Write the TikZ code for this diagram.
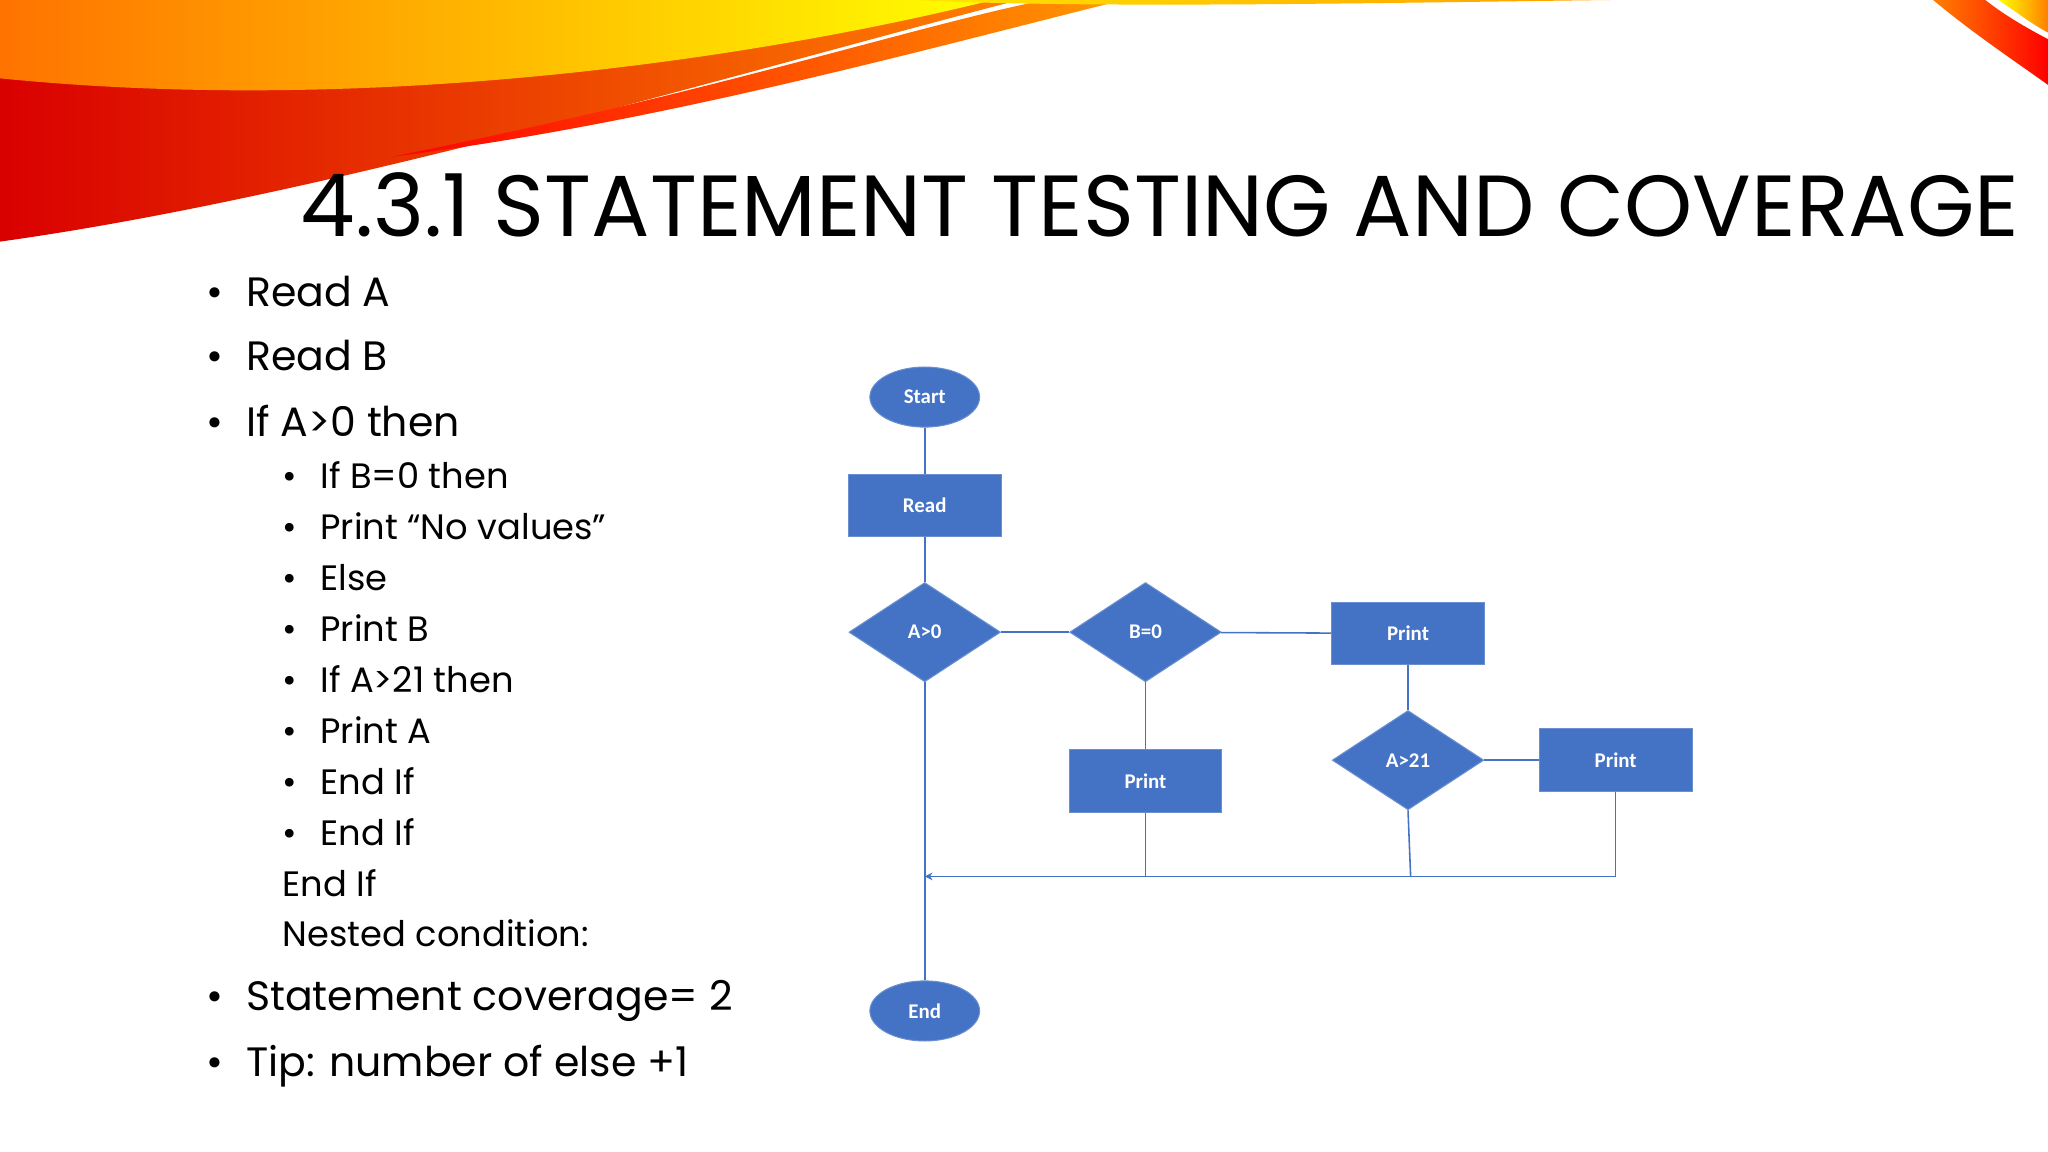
\documentclass[tikz,border=0pt]{standalone}
\usepackage{fontspec}
\setmainfont{Poppins}
\newfontfamily\calfont{Carlito}
\usetikzlibrary{shapes.geometric,arrows.meta}
\definecolor{fc}{HTML}{4472C4}
\definecolor{bc}{HTML}{6A8FD0}
\begin{document}
\begin{tikzpicture}[x=0.5pt,y=-0.5pt,
  box/.style={draw=bc,fill=fc,minimum width=58.5pt,minimum height=24pt,text=white,font=\calfont\fontsize{8}{9}\selectfont\bfseries,inner sep=0pt},
  dia/.style={diamond,draw=bc,fill=fc,aspect=1.55,minimum width=58pt,minimum height=38pt,text=white,font=\calfont\fontsize{8}{9}\selectfont\bfseries,inner sep=0pt},
  ell/.style={ellipse,draw=bc,fill=fc,minimum width=42pt,minimum height=23pt,text=white,font=\calfont\fontsize{8}{9}\selectfont\bfseries,inner sep=0pt},
  ln/.style={draw=fc,line width=0.6pt},
  bul/.style={anchor=base west,font=\fontsize{15.7}{18}\selectfont,inner sep=0pt},
  sbul/.style={anchor=base west,font=\fontsize{13.5}{16}\selectfont,inner sep=0pt}]
\useasboundingbox (0,0) rectangle (1568,882);
\fill[white] (0,0) rectangle (1568,882);
% decorative swooshes
\shade[left color=red!85!black,right color=orange] (0,0) -- (0,185) .. controls (250,150) and (550,60) .. (780,0) -- cycle;
\shade[left color=orange!90!red,right color=yellow] (0,0) -- (0,60) .. controls (300,90) and (600,40) .. (760,0) -- cycle;
\shade[left color=red,right color=orange!80!yellow] (300,120) .. controls (550,70) and (700,20) .. (800,0) -- (860,0) .. controls (700,40) and (500,95) .. (300,120) -- cycle;
\shade[left color=yellow!80!orange,right color=orange] (700,0) .. controls (900,10) and (1300,-5) .. (1450,0) -- cycle;
\shade[left color=orange,right color=red] (1480,0) .. controls (1510,25) and (1540,45) .. (1568,65) -- (1568,30) .. controls (1545,18) and (1530,8) .. (1520,0) -- cycle;
\shade[left color=yellow,right color=orange] (1530,0) .. controls (1545,10) and (1555,18) .. (1568,25) -- (1568,0) -- cycle;
% title
\node[anchor=base west,inner sep=0pt,font=\fontsize{33.2}{36}\selectfont] (title) at (230,181) {4.3.1 STATEMENT TESTING AND COVERAGE};
% bullets
\node[bul] (b1) at (188,235) {Read A};
\node[bul] (b2) at (188,284) {Read B};
\node[bul] (b3) at (188,334) {If A>0 then};
\foreach \t/\y [count=\i] in {If B=0 then/374,Print “No values”/413,Else/452,Print B/491,If A>21 then/530,Print A/569,End If/608,End If/647}{
  \node[sbul] (s\i) at (245,\y) {\t};
  \node[sbul] (d\i) at (216,\y) {•};}
\foreach \y [count=\i] in {235,284,334,774,824}{\node[bul] (e\i) at (158,\y) {•};}
\node[sbul] (ei) at (216,686) {End If};
\node[sbul] (nc) at (216,725) {Nested condition:};
\node[bul] (b4) at (188,774) {Statement coverage= 2};
\node[bul] (b5) at (188,824) {Tip: number of else +1};
% flowchart
\node[ell] (start) at (708,304) {Start};
\node[box] (read) at (708,387) {Read};
\node[dia] (a0) at (708,484) {A>0};
\node[dia] (b0) at (877,484) {B=0};
\node[box] (p1) at (1078,485) {Print};
\node[box] (p2) at (877,598) {Print};
\node[dia] (a21) at (1078,582) {A>21};
\node[box] (p3) at (1237,582) {Print};
\node[ell] (end) at (708,774) {End};
\coordinate (j) at (708,671);
\coordinate (c2) at (877,671);
\coordinate (c3) at (1080,671);
\coordinate (c4) at (1237,671);
\draw[ln] (start) -- (read);
\draw[ln] (read) -- (a0);
\draw[ln] (a0) -- (b0);
\draw[ln] (b0) -- (p1);
\draw[ln] (b0) -- (p2);
\draw[ln] (p1) -- (a21);
\draw[ln] (a21) -- (p3);
\draw[ln] (a0) -- (end);
\draw[ln] (p2) -- (c2);
\draw[ln] (a21.south) -- (c3);
\draw[ln,-{Stealth[length=3pt,width=3pt]}] (p3.south) -- (c4) -- (j);
\end{tikzpicture}
\end{document}
